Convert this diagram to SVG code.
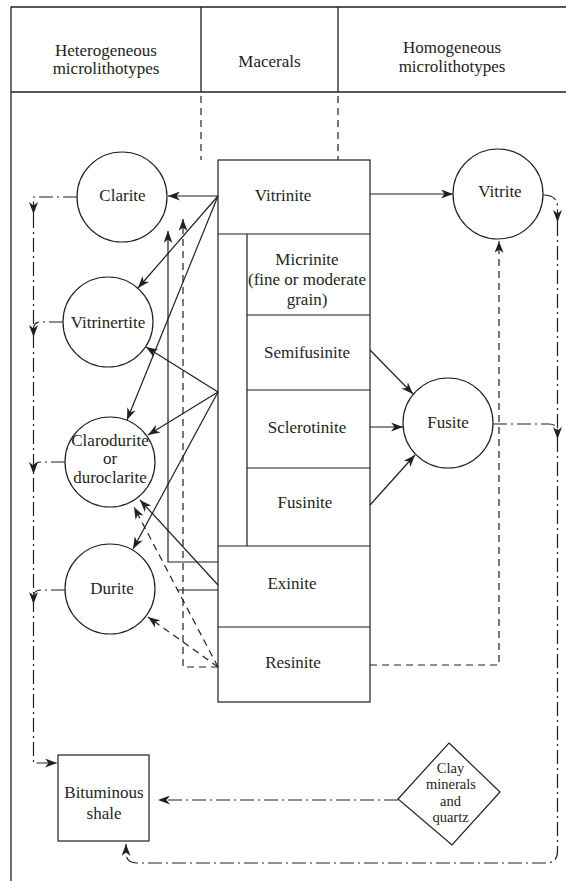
<svg xmlns="http://www.w3.org/2000/svg" width="566" height="881" viewBox="0 0 566 881">
  <style>
    text { font-family: "Liberation Serif", Tinos, "Times New Roman", "Noto Serif", "DejaVu Serif", Georgia, serif; font-size: 17px; fill: #231f20; text-anchor: middle; }
    text.small { font-size: 14.5px; }
    .frame { fill: none; stroke: #231f20; stroke-width: 1.3; }
    .node { fill: #fff; stroke: #231f20; stroke-width: 1.2; }
    .solid { fill: none; stroke: #231f20; stroke-width: 1.2; }
    .dash { fill: none; stroke: #231f20; stroke-width: 1.2; stroke-dasharray: 7 5; }
    .dashdot { fill: none; stroke: #231f20; stroke-width: 1.2; stroke-dasharray: 14 4 2 4; }
  </style>
  <defs>
    <marker id="ah" viewBox="0 0 12 9" refX="12" refY="4.5" markerWidth="12" markerHeight="9" orient="auto" markerUnits="userSpaceOnUse">
      <path d="M0,0 L12,4.5 L0,9 L3.5,4.5 z" fill="#231f20"/>
    </marker>
  </defs>

  <rect width="566" height="881" fill="#fff"/>

  <!-- table frame and column headings -->
  <g id="header">
    <path class="frame" d="M11,881 V7 H566 M11,92 H566 M201,7 V92 M338,7 V92"/>
    <path class="dash" d="M201,96 V160 M338,96 V160"/>
    <text x="106" y="56">Heterogeneous</text>
    <text x="106" y="74">microlithotypes</text>
    <text x="269.5" y="67">Macerals</text>
    <text x="452" y="53">Homogeneous</text>
    <text x="452" y="72">microlithotypes</text>
  </g>

  <!-- maceral column -->
  <g id="macerals">
    <rect class="node" x="218" y="160" width="152" height="542"/>
    <path class="solid" d="M218,234 H370 M247,234 V546 M247,315 H370 M247,390 H370 M247,468 H370 M218,546 H370 M218,627 H370"/>
  </g>
  <g id="vitrinite"><text x="283" y="201">Vitrinite</text></g>
  <g id="micrinite">
    <text x="307" y="265">Micrinite</text>
    <text x="307" y="285">(fine or moderate</text>
    <text x="307" y="305">grain)</text>
  </g>
  <g id="semifusinite"><text x="307" y="358">Semifusinite</text></g>
  <g id="sclerotinite"><text x="307" y="433">Sclerotinite</text></g>
  <g id="fusinite"><text x="305" y="508">Fusinite</text></g>
  <g id="exinite"><text x="292" y="589">Exinite</text></g>
  <g id="resinite"><text x="293" y="668">Resinite</text></g>

  <!-- heterogeneous microlithotypes -->
  <g id="clarite">
    <circle class="node" cx="122" cy="197" r="45"/>
    <text x="122.5" y="201">Clarite</text>
  </g>
  <g id="vitrinertite">
    <circle class="node" cx="108" cy="322" r="45"/>
    <text x="108" y="328">Vitrinertite</text>
  </g>
  <g id="clarodurite">
    <circle class="node" cx="110" cy="462" r="45"/>
    <text x="110" y="446">Clarodurite</text>
    <text x="110" y="464">or</text>
    <text x="110" y="483">duroclarite</text>
  </g>
  <g id="durite">
    <circle class="node" cx="110" cy="589" r="45"/>
    <text x="112" y="594">Durite</text>
  </g>

  <!-- homogeneous microlithotypes -->
  <g id="vitrite">
    <circle class="node" cx="498" cy="194" r="45"/>
    <text x="500" y="197">Vitrite</text>
  </g>
  <g id="fusite">
    <circle class="node" cx="448" cy="423" r="45"/>
    <text x="448" y="428">Fusite</text>
  </g>

  <!-- end products -->
  <g id="bituminous-shale">
    <rect class="node" x="58" y="755" width="91" height="86"/>
    <text x="104" y="798">Bituminous</text>
    <text x="104" y="819">shale</text>
  </g>
  <g id="clay-quartz">
    <polygon class="node" points="449,743 500,792 452,845 398,799"/>
    <text class="small" x="450.5" y="773">Clay</text>
    <text class="small" x="451" y="789.3">minerals</text>
    <text class="small" x="450.5" y="805.6">and</text>
    <text class="small" x="450.5" y="822">quartz</text>
  </g>

  <g id="connectors">
    <!-- vitrinite -->
    <path class="solid" d="M218,196 L168,196" marker-end="url(#ah)"/>
    <path class="solid" d="M218,196 L138,288" marker-end="url(#ah)"/>
    <path class="solid" d="M218,196 L127,420" marker-end="url(#ah)"/>
    <path class="solid" d="M370,194 L453,194" marker-end="url(#ah)"/>
    <!-- semifusinite / sclerotinite group -->
    <path class="solid" d="M218,392 L146,347" marker-end="url(#ah)"/>
    <path class="solid" d="M218,392 L148,435" marker-end="url(#ah)"/>
    <path class="solid" d="M218,392 L133,549" marker-end="url(#ah)"/>
    <path class="solid" d="M370,350 L413,394" marker-end="url(#ah)"/>
    <path class="solid" d="M370,427 L403,427" marker-end="url(#ah)"/>
    <path class="solid" d="M370,505 L415,455" marker-end="url(#ah)"/>
    <!-- exinite -->
    <path class="solid" d="M218,562 H168 V231" marker-end="url(#ah)"/>
    <path class="solid" d="M218,585 L140,500" marker-end="url(#ah)"/>
    <path class="solid" d="M218,590 H177"/>
    <!-- resinite -->
    <path class="dash" d="M218,667 L148,617" marker-end="url(#ah)"/>
    <path class="dash" d="M218,667 L134,507" marker-end="url(#ah)"/>
    <path class="dash" d="M218,667 H183 V219" marker-end="url(#ah)"/>
    <path class="dash" d="M370,665 H499 V241" marker-end="url(#ah)"/>
    <!-- heterogeneous types to bituminous shale -->
    <path class="dashdot" d="M77,197 H33.5 V214" marker-end="url(#ah)"/>
    <path class="dashdot" d="M63,322 H41 Q33.5,322 33.5,329 V337" marker-end="url(#ah)"/>
    <path class="dashdot" d="M65,462 H41 Q33.5,462 33.5,469 V474" marker-end="url(#ah)"/>
    <path class="dashdot" d="M65,590 H41 Q33.5,590 33.5,597 V604" marker-end="url(#ah)"/>
    <path class="dashdot" d="M33.5,214 V763 H57" marker-end="url(#ah)"/>
    <!-- homogeneous types to bituminous shale -->
    <path class="dashdot" d="M543,195 Q557.5,195 557.5,207 V222" marker-end="url(#ah)"/>
    <path class="dashdot" d="M493,424 H549 Q557.5,424 557.5,432 V439" marker-end="url(#ah)"/>
    <path class="dashdot" d="M557.5,222 V851 Q557.5,863 546,863 H137 Q126,863 126,853 V844" marker-end="url(#ah)"/>
    <!-- clay minerals -->
    <path class="dashdot" d="M398,800 H158" marker-end="url(#ah)"/>
  </g>
</svg>
